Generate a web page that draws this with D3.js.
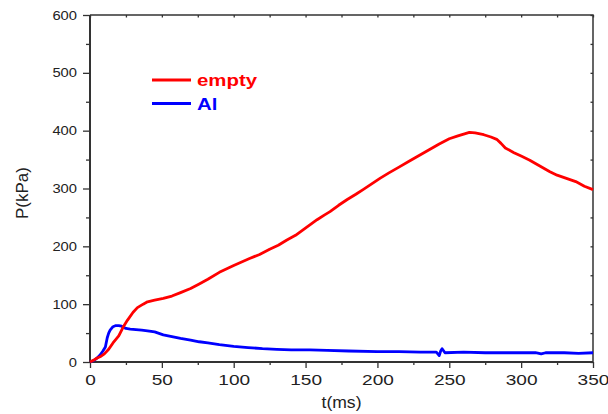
<!DOCTYPE html>
<html>
<head>
<meta charset="utf-8">
<script src="https://cdn.jsdelivr.net/npm/d3@7"></script>
<style>
  body { margin: 0; background: #fff; }
  text { font-family: "Liberation Sans", Arial, sans-serif; fill: #222; }
</style>
</head>
<body>
<svg id="chart" width="608" height="414"></svg>
<script>
// data
const emptyT = [0, 3, 5, 7, 10, 13, 16, 20, 23, 26, 30, 33, 37, 40, 45, 51, 57, 63, 70, 76, 82, 90, 100, 111, 118, 125, 131, 137, 143, 148, 153, 158, 163, 167, 173, 179, 185, 190, 196, 202, 208, 215, 222, 229, 236, 243, 250, 256, 260, 264, 268, 274, 279, 283, 286, 289, 295, 300, 306, 313, 320, 325, 331, 338, 344, 350];
const emptyP = [0, 4, 7, 9, 14, 22, 33, 45, 60, 72, 86, 94, 100, 104, 107, 110, 114, 120, 127, 135, 143, 155, 167, 179, 186, 195, 202, 211, 219, 228, 237, 246, 254, 260, 271, 281, 290, 298, 308, 318, 327, 337, 347, 357, 367, 377, 386, 391, 394, 397, 396, 393, 389, 385, 378, 370, 362, 356, 349, 339, 329, 323, 318, 312, 304, 298];

const alT = [0, 3, 5, 7, 9, 10.7, 12, 13, 14, 16, 18, 20, 22, 25, 28, 32, 36, 40, 45, 51, 57, 63, 70, 76, 82, 90, 100, 110, 120, 130, 140, 153, 165, 180, 200, 215, 230, 241, 243, 244, 245, 247, 260, 275, 290, 300, 310, 314, 317, 330, 340, 350];
const alP = [0, 3, 7, 12, 19, 26, 42, 50, 55, 61, 63, 63, 62, 58, 57, 56, 55, 54, 52, 47, 44, 41, 38, 35, 33, 30, 27, 25, 23, 22, 21, 21, 20, 19, 18, 18, 17, 17, 11, 19, 23, 16, 17, 16, 16, 16, 16, 14, 16, 16, 15, 16];

const xTicks = [0, 50, 100, 150, 200, 250, 300, 350];
const yTicks = [0, 100, 200, 300, 400, 500, 600];
const seriesNames = ['empty', 'Al'];
const seriesColors = ['#ff0000', '#0000ff'];

const pl = 90, pr = 593, pt = 15, pb = 362;
const svg = d3.select('#chart');

const x = d3.scaleLinear().domain([0, 350]).range([pl, pr]);
const y = d3.scaleLinear().domain([0, 600]).range([pb, pt]);

const minorX = d3.range(0, 351, 25).filter(v => v % 50 !== 0);
const minorY = d3.range(0, 601, 50).filter(v => v % 100 !== 0);

function styleAxis(g) {
  g.select('.domain').remove();
  g.selectAll('line').attr('stroke', '#333').attr('stroke-width', 1.3);
}

// the source picture is a bit wider than tall, so stretch labels sideways
function stretch(sel, perChar) {
  sel.attr('textLength', function() { return this.textContent.length * perChar; })
     .attr('lengthAdjust', 'spacingAndGlyphs');
}

// bottom axis
svg.append('g')
    .attr('transform', `translate(0,${pb})`)
    .call(d3.axisBottom(x).tickValues(xTicks).tickSize(6).tickPadding(6).tickFormat(d3.format('d')))
    .call(styleAxis)
    .call(g => g.selectAll('text').style('font-size', '15px').attr('fill', '#222').call(stretch, 10.6));
svg.append('g')
    .attr('transform', `translate(0,${pb})`)
    .call(d3.axisBottom(x).tickValues(minorX).tickSize(3).tickFormat(''))
    .call(styleAxis);

// left axis
svg.append('g')
    .attr('transform', `translate(${pl},0)`)
    .call(d3.axisLeft(y).tickValues(yTicks).tickSize(7).tickPadding(6).tickFormat(d3.format('d')))
    .call(styleAxis)
    .call(g => g.selectAll('text').style('font-size', '12.5px').attr('fill', '#222').call(stretch, 8.2));
svg.append('g')
    .attr('transform', `translate(${pl},0)`)
    .call(d3.axisLeft(y).tickValues(minorY).tickSize(4).tickFormat(''))
    .call(styleAxis);

// top and right: small inward ticks
svg.append('g')
    .attr('transform', `translate(0,${pt})`)
    .call(d3.axisBottom(x).tickValues(d3.range(0, 351, 25)).tickSize(2.5).tickFormat(''))
    .call(styleAxis);
svg.append('g')
    .attr('transform', `translate(${pr},0)`)
    .call(d3.axisLeft(y).tickValues(d3.range(0, 601, 50)).tickSize(2.5).tickFormat(''))
    .call(styleAxis);

// frame
svg.append('path')
    .attr('d', `M${pl},${pt}H${pr}V${pb}`)
    .attr('fill', 'none').attr('stroke', '#333').attr('stroke-width', 1.5);
svg.append('path')
    .attr('d', `M${pl},${pt}V${pb}H${pr}`)
    .attr('fill', 'none').attr('stroke', '#333').attr('stroke-width', 2);

// lines
const line = d3.line().x(d => x(d[0])).y(d => y(d[1]));
svg.append('path')
    .datum(d3.zip(alT, alP))
    .attr('d', line)
    .attr('fill', 'none')
    .attr('stroke', seriesColors[1])
    .attr('stroke-width', 2.8)
    .attr('stroke-linejoin', 'round');
svg.append('path')
    .datum(d3.zip(emptyT, emptyP))
    .attr('d', line)
    .attr('fill', 'none')
    .attr('stroke', seriesColors[0])
    .attr('stroke-width', 2.8)
    .attr('stroke-linejoin', 'round');

// legend
seriesNames.forEach((name, i) => {
  const ly = 80 + i * 23.5;
  svg.append('line')
      .attr('x1', 152).attr('x2', 191)
      .attr('y1', ly).attr('y2', ly)
      .attr('stroke', seriesColors[i]).attr('stroke-width', 3);
  svg.append('text')
      .attr('x', 197).attr('y', ly + 6)
      .style('font-size', '17px').style('font-weight', 'bold')
      .style('fill', seriesColors[i])
      .text(name)
      .each(function() {
        const w = this.getComputedTextLength() * 1.2;
        d3.select(this).attr('textLength', w).attr('lengthAdjust', 'spacingAndGlyphs');
      });
});

// axis titles
svg.append('text')
    .attr('x', (pl + pr) / 2).attr('y', 408)
    .attr('text-anchor', 'middle')
    .style('font-size', '16px')
    .text('t(ms)')
    .attr('textLength', 40).attr('lengthAdjust', 'spacingAndGlyphs');
svg.append('text')
    .attr('transform', 'translate(28,193) rotate(-90)')
    .attr('text-anchor', 'middle')
    .style('font-size', '17px')
    .text('P(kPa)');
</script>
</body>
</html>
